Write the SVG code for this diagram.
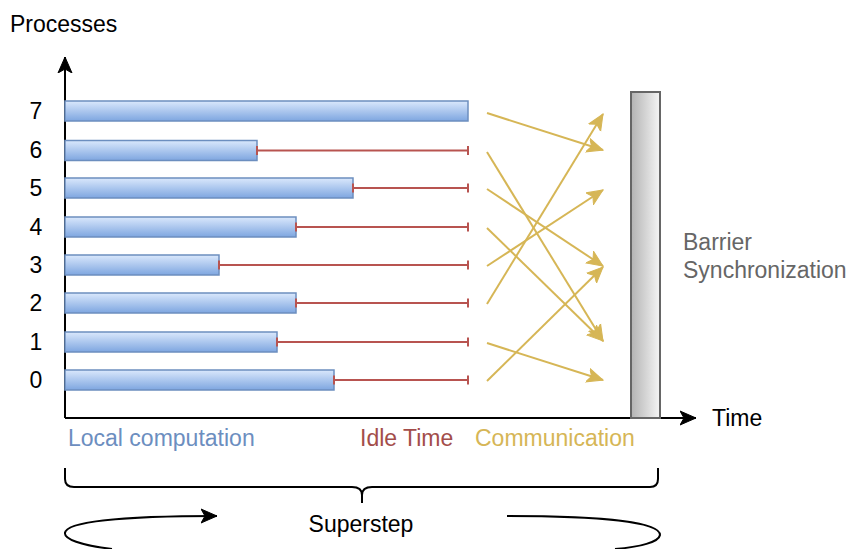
<svg xmlns="http://www.w3.org/2000/svg" width="848" height="549" viewBox="0 0 848 549">
<style>
text{font-family:"Liberation Sans",Arial,sans-serif;font-size:23px}
.num{text-anchor:middle;fill:#000}
.bar{fill:url(#barGrad);stroke:#6c8ebf;stroke-width:1.5}
.idle{stroke:#b85450;stroke-width:2;fill:none}
.comm{stroke:#d6b656;stroke-width:2;fill:none;marker-end:url(#goldArrow)}
.axis{stroke:#000;stroke-width:2;fill:none;marker-end:url(#blackArrow)}
</style>
<defs>
<linearGradient id="barGrad" x1="0" y1="0" x2="0" y2="1">
<stop offset="0" stop-color="#dae8fc"/>
<stop offset="1" stop-color="#7ea6e0"/>
</linearGradient>
<linearGradient id="barrierGrad" x1="0" y1="0" x2="1" y2="0">
<stop offset="0" stop-color="#b3b3b3"/>
<stop offset="1" stop-color="#f5f5f5"/>
</linearGradient>
<marker id="goldArrow" markerUnits="userSpaceOnUse" markerWidth="18" markerHeight="16" refX="16" refY="7" orient="auto" viewBox="0 0 18 14">
<path d="M0,0 L16,7 L0,14 L4,7 Z" fill="#d6b656" stroke="#d6b656" stroke-width="1"/>
</marker>
<marker id="blackArrow" markerUnits="userSpaceOnUse" markerWidth="18" markerHeight="16" refX="16" refY="7" orient="auto" viewBox="0 0 18 14">
<path d="M0,0 L16,7 L0,14 L4,7 Z" fill="#000" stroke="#000" stroke-width="1"/>
</marker>
</defs>
<rect width="848" height="549" fill="#fff"/>

<g id="axes">
<path class="axis" d="M65,418 L65,57"/>
<path class="axis" d="M65,418 L696,418"/>
<text x="10" y="32">Processes</text>
<text x="712" y="426">Time</text>
</g>

<g id="labels">
<text class="num" x="36" y="119">7</text>
<text class="num" x="36" y="158">6</text>
<text class="num" x="36" y="196">5</text>
<text class="num" x="36" y="235">4</text>
<text class="num" x="36" y="273">3</text>
<text class="num" x="36" y="311">2</text>
<text class="num" x="36" y="350">1</text>
<text class="num" x="36" y="388">0</text>
</g>

<g id="p7"><rect class="bar" x="65" y="101" width="403" height="20"/></g>
<g id="p6"><rect class="bar" x="65" y="140.5" width="192" height="20"/>
<path class="idle" d="M257,150.5 H468 M257,146 V155 M468,146 V155"/></g>
<g id="p5"><rect class="bar" x="65" y="178" width="288" height="20"/>
<path class="idle" d="M353,188 H468 M353,183.5 V192.5 M468,183.5 V192.5"/></g>
<g id="p4"><rect class="bar" x="65" y="217" width="231" height="20"/>
<path class="idle" d="M296,227 H468 M296,222.5 V231.5 M468,222.5 V231.5"/></g>
<g id="p3"><rect class="bar" x="65" y="255" width="154" height="20"/>
<path class="idle" d="M219,265 H468 M219,260.5 V269.5 M468,260.5 V269.5"/></g>
<g id="p2"><rect class="bar" x="65" y="293" width="231" height="20"/>
<path class="idle" d="M296,303 H468 M296,298.5 V307.5 M468,298.5 V307.5"/></g>
<g id="p1"><rect class="bar" x="65" y="332" width="212" height="20"/>
<path class="idle" d="M277,342 H468 M277,337.5 V346.5 M468,337.5 V346.5"/></g>
<g id="p0"><rect class="bar" x="65" y="370" width="269" height="20"/>
<path class="idle" d="M334,380 H468 M334,375.5 V384.5 M468,375.5 V384.5"/></g>

<g id="barrier">
<rect x="631" y="92" width="29" height="326" fill="url(#barrierGrad)" stroke="#666" stroke-width="2"/>
<text x="683" y="250" fill="#666">Barrier</text>
<text x="683" y="278" fill="#666">Synchronization</text>
</g>

<g id="connectors">
<path class="comm" d="M487,113 L603,150"/>
<path class="comm" d="M487,152 L603,341"/>
<path class="comm" d="M487,189 L603,266"/>
<path class="comm" d="M487,228 L603,341"/>
<path class="comm" d="M487,266 L603,190"/>
<path class="comm" d="M487,304 L603,114"/>
<path class="comm" d="M487,343 L603,380"/>
<path class="comm" d="M487,381 L603,267"/>
</g>

<g id="legend">
<text x="68" y="446" fill="#6c8ebf">Local computation</text>
<text x="360" y="446" fill="#a34d4a">Idle Time</text>
<text x="475" y="446" fill="#d6b656">Communication</text>
</g>

<g id="superstep">
<path d="M65,468 V479 Q65,487 74,487 H352 Q362,487 362,495 V503 M362,495 Q362,487 372,487 H650 Q658,487 658,479 V468" fill="none" stroke="#000" stroke-width="2"/>
<text x="361" y="532" text-anchor="middle">Superstep</text>
<path d="M112,549 C80,545 64,539 65,533 C66,522 120,516 217,516" fill="none" stroke="#000" stroke-width="2" marker-end="url(#blackArrow)"/>
<path d="M507,516 C600,516 660,522 660,535 C659,542 640,547 615,549" fill="none" stroke="#000" stroke-width="2"/>
</g>
</svg>
